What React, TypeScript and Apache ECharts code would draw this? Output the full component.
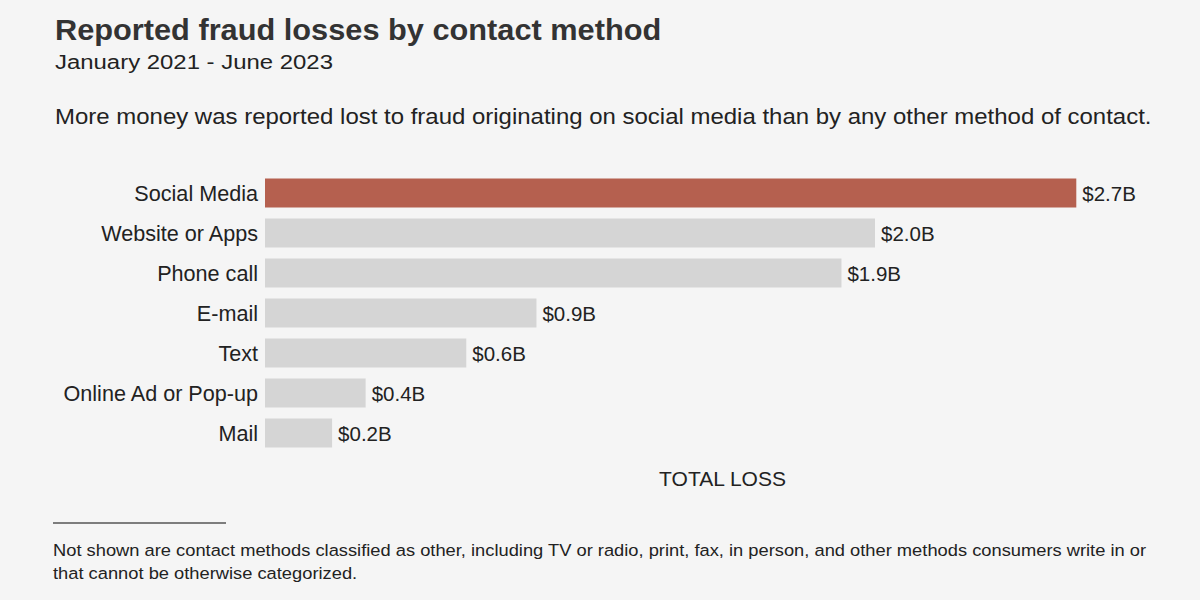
import React, { useEffect, useRef } from "react";
import * as echarts from "echarts";

const categories = [
  "Social Media",
  "Website or Apps",
  "Phone call",
  "E-mail",
  "Text",
  "Online Ad or Pop-up",
  "Mail",
];
const lossBillions = [2.66, 2.0, 1.89, 0.89, 0.66, 0.33, 0.22];
const valueLabels = ["$2.7B", "$2.0B", "$1.9B", "$0.9B", "$0.6B", "$0.4B", "$0.2B"];
const highlightIndex = 0;

const TITLE = "Reported fraud losses by contact method";
const SUBTITLE = "January 2021 - June 2023";
const DESCRIPTION =
  "More money was reported lost to fraud originating on social media than by any other method of contact.";
const AXIS_NAME = "TOTAL LOSS";
const FOOTNOTE_1 =
  "Not shown are contact methods classified as other, including TV or radio, print, fax, in person, and other methods consumers write in or";
const FOOTNOTE_2 = "that cannot be otherwise categorized.";

const FONT = "Liberation Sans, Arial, Helvetica, sans-serif";
const HIGHLIGHT = "#b5604f";
const GREY = "#d5d5d5";
const BG = "#f5f5f5";

export default function App() {
  const ref = useRef<HTMLDivElement>(null);
  useEffect(() => {
    if (!ref.current) return;
    const chart = echarts.init(ref.current, undefined, { renderer: "svg" });
    chart.setOption({
      animation: false,
      backgroundColor: BG,
      textStyle: { fontFamily: FONT },
      grid: { left: 265, top: 173, width: 915, height: 280, containLabel: false },
      xAxis: {
        type: "value",
        min: 0,
        max: 3,
        axisLine: { show: false },
        axisTick: { show: false },
        axisLabel: { show: false },
        splitLine: { show: false },
        name: AXIS_NAME,
        nameLocation: "middle",
        nameGap: 15,
        nameTextStyle: { fontSize: 21, color: "#222", fontFamily: FONT },
      },
      yAxis: {
        type: "category",
        inverse: true,
        data: categories,
        axisLine: { show: false },
        axisTick: { show: false },
        axisLabel: { fontSize: 21.6, color: "#222", margin: 7, fontFamily: FONT },
      },
      series: [
        {
          type: "bar",
          barWidth: 29,
          data: lossBillions.map((v, i) => ({
            value: v,
            itemStyle: { color: i === highlightIndex ? HIGHLIGHT : GREY },
            label: {
              show: true,
              position: "right",
              distance: 6,
              formatter: valueLabels[i],
              fontSize: 20.5,
              color: "#222",
              fontFamily: FONT,
            },
          })),
        },
      ],
      graphic: [
        {
          type: "text",
          x: 55,
          y: 15,
          scaleX: 1.06,
          style: { text: TITLE, fontSize: 29, fontWeight: "bold", fill: "#333", fontFamily: FONT, verticalAlign: "top" },
        },
        {
          type: "text",
          x: 55,
          y: 51,
          scaleX: 1.14,
          style: { text: SUBTITLE, fontSize: 21, fill: "#222", fontFamily: FONT, verticalAlign: "top" },
        },
        {
          type: "text",
          x: 55,
          y: 105,
          scaleX: 1.09,
          style: { text: DESCRIPTION, fontSize: 22, fill: "#222", fontFamily: FONT, verticalAlign: "top" },
        },
        {
          type: "line",
          shape: { x1: 53, y1: 523, x2: 226, y2: 523 },
          style: { stroke: "#555", lineWidth: 1.5 },
        },
        {
          type: "text",
          x: 53,
          y: 542,
          scaleX: 1.077,
          style: { text: FOOTNOTE_1, fontSize: 17, fill: "#222", fontFamily: FONT, verticalAlign: "top" },
        },
        {
          type: "text",
          x: 53,
          y: 565,
          scaleX: 1.077,
          style: { text: FOOTNOTE_2, fontSize: 17, fill: "#222", fontFamily: FONT, verticalAlign: "top" },
        },
      ],
    });
    return () => chart.dispose();
  }, []);
  return (
    <div
      ref={ref}
      style={{ position: "fixed", left: 0, top: 0, width: 1200, height: 600 }}
    />
  );
}
